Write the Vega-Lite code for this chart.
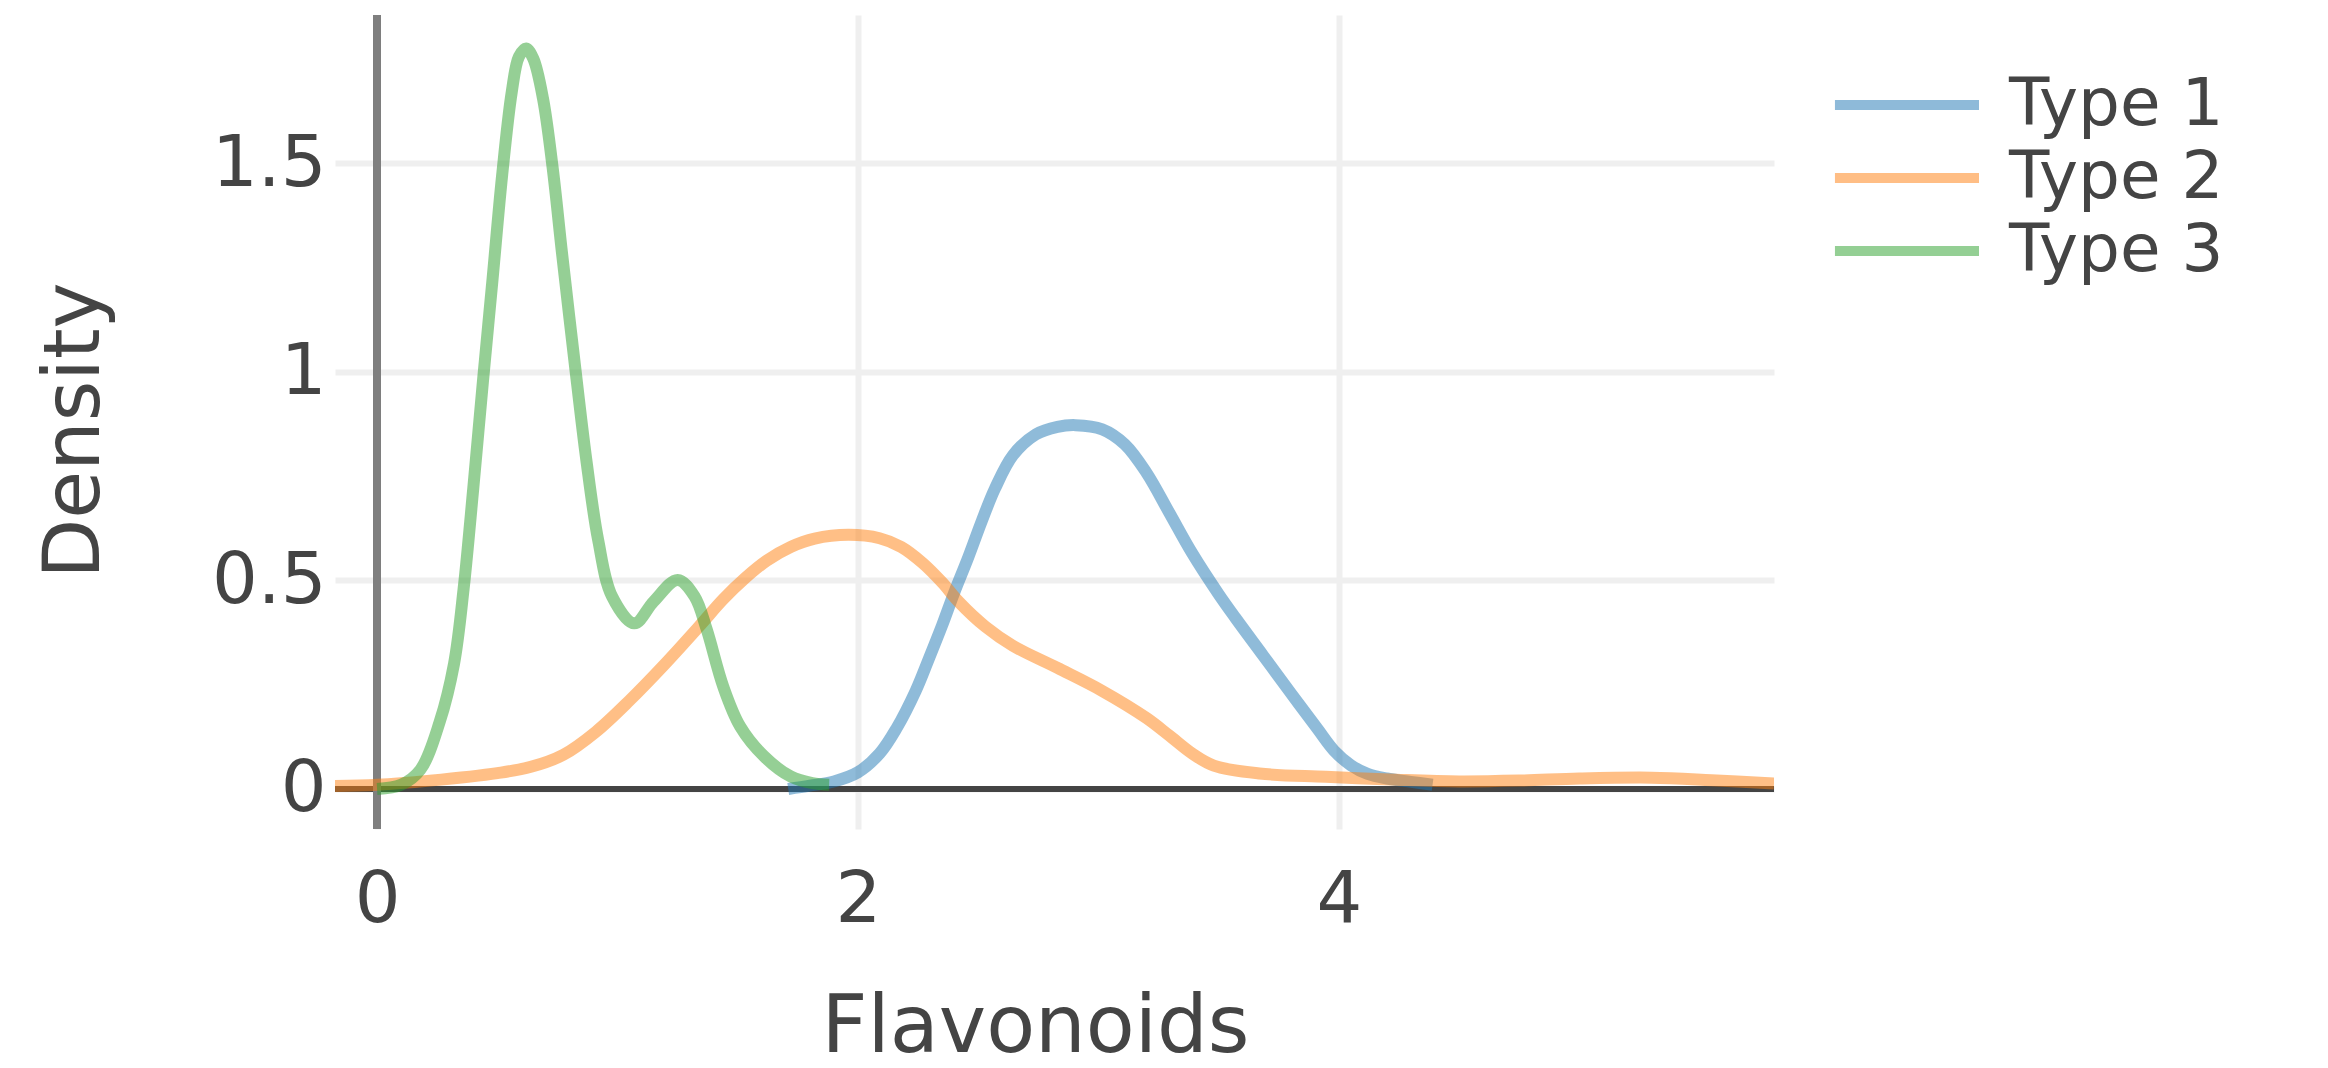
{
  "$schema": "https://vega.github.io/schema/vega-lite/v6.json",
  "width": 1439,
  "height": 814,
  "autosize": {"type": "none"},
  "padding": {"left": 335, "top": 15, "right": 554, "bottom": 239},
  "background": "white",
  "config": {"view": {"stroke": null}, "font": "DejaVu Sans"},
  "data": {"values": [
    {"type": "Type 1", "x": 1.71, "y": 0.0},
    {"type": "Type 1", "x": 1.80, "y": 0.008},
    {"type": "Type 1", "x": 1.90, "y": 0.018},
    {"type": "Type 1", "x": 2.00, "y": 0.04},
    {"type": "Type 1", "x": 2.09, "y": 0.085},
    {"type": "Type 1", "x": 2.16, "y": 0.145},
    {"type": "Type 1", "x": 2.24, "y": 0.235},
    {"type": "Type 1", "x": 2.29, "y": 0.305},
    {"type": "Type 1", "x": 2.35, "y": 0.392},
    {"type": "Type 1", "x": 2.40, "y": 0.47},
    {"type": "Type 1", "x": 2.46, "y": 0.557},
    {"type": "Type 1", "x": 2.515, "y": 0.642},
    {"type": "Type 1", "x": 2.57, "y": 0.72},
    {"type": "Type 1", "x": 2.645, "y": 0.80},
    {"type": "Type 1", "x": 2.74, "y": 0.85},
    {"type": "Type 1", "x": 2.83, "y": 0.868},
    {"type": "Type 1", "x": 2.905, "y": 0.872},
    {"type": "Type 1", "x": 3.016, "y": 0.862},
    {"type": "Type 1", "x": 3.11, "y": 0.826},
    {"type": "Type 1", "x": 3.20, "y": 0.758},
    {"type": "Type 1", "x": 3.295, "y": 0.662},
    {"type": "Type 1", "x": 3.39, "y": 0.565},
    {"type": "Type 1", "x": 3.50, "y": 0.467},
    {"type": "Type 1", "x": 3.57, "y": 0.41},
    {"type": "Type 1", "x": 3.685, "y": 0.32},
    {"type": "Type 1", "x": 3.80, "y": 0.23},
    {"type": "Type 1", "x": 3.91, "y": 0.145},
    {"type": "Type 1", "x": 3.98, "y": 0.092},
    {"type": "Type 1", "x": 4.05, "y": 0.057},
    {"type": "Type 1", "x": 4.12, "y": 0.036},
    {"type": "Type 1", "x": 4.20, "y": 0.025},
    {"type": "Type 1", "x": 4.30, "y": 0.017},
    {"type": "Type 1", "x": 4.39, "y": 0.01},
    {"type": "Type 2", "x": -0.175, "y": 0.007},
    {"type": "Type 2", "x": 0.0, "y": 0.01},
    {"type": "Type 2", "x": 0.22, "y": 0.02},
    {"type": "Type 2", "x": 0.50, "y": 0.038},
    {"type": "Type 2", "x": 0.64, "y": 0.053},
    {"type": "Type 2", "x": 0.775, "y": 0.082},
    {"type": "Type 2", "x": 0.91, "y": 0.137},
    {"type": "Type 2", "x": 1.05, "y": 0.212},
    {"type": "Type 2", "x": 1.19, "y": 0.295},
    {"type": "Type 2", "x": 1.34, "y": 0.39},
    {"type": "Type 2", "x": 1.44, "y": 0.455},
    {"type": "Type 2", "x": 1.53, "y": 0.505},
    {"type": "Type 2", "x": 1.62, "y": 0.547},
    {"type": "Type 2", "x": 1.72, "y": 0.58},
    {"type": "Type 2", "x": 1.82, "y": 0.600},
    {"type": "Type 2", "x": 1.96, "y": 0.609},
    {"type": "Type 2", "x": 2.09, "y": 0.601},
    {"type": "Type 2", "x": 2.18, "y": 0.58},
    {"type": "Type 2", "x": 2.27, "y": 0.541},
    {"type": "Type 2", "x": 2.35, "y": 0.495},
    {"type": "Type 2", "x": 2.42, "y": 0.448},
    {"type": "Type 2", "x": 2.53, "y": 0.389},
    {"type": "Type 2", "x": 2.645, "y": 0.343},
    {"type": "Type 2", "x": 2.83, "y": 0.29},
    {"type": "Type 2", "x": 3.016, "y": 0.235},
    {"type": "Type 2", "x": 3.20, "y": 0.17},
    {"type": "Type 2", "x": 3.295, "y": 0.128},
    {"type": "Type 2", "x": 3.39, "y": 0.085},
    {"type": "Type 2", "x": 3.48, "y": 0.056},
    {"type": "Type 2", "x": 3.67, "y": 0.037},
    {"type": "Type 2", "x": 3.945, "y": 0.029},
    {"type": "Type 2", "x": 4.24, "y": 0.022},
    {"type": "Type 2", "x": 4.5, "y": 0.018},
    {"type": "Type 2", "x": 4.75, "y": 0.02},
    {"type": "Type 2", "x": 5.0, "y": 0.025},
    {"type": "Type 2", "x": 5.3, "y": 0.027},
    {"type": "Type 2", "x": 5.55, "y": 0.021},
    {"type": "Type 2", "x": 5.81, "y": 0.013},
    {"type": "Type 3", "x": 0.0, "y": 0.0},
    {"type": "Type 3", "x": 0.1, "y": 0.01},
    {"type": "Type 3", "x": 0.18, "y": 0.046},
    {"type": "Type 3", "x": 0.26, "y": 0.16},
    {"type": "Type 3", "x": 0.32, "y": 0.3},
    {"type": "Type 3", "x": 0.36, "y": 0.48},
    {"type": "Type 3", "x": 0.40, "y": 0.72},
    {"type": "Type 3", "x": 0.44, "y": 0.975},
    {"type": "Type 3", "x": 0.48, "y": 1.22},
    {"type": "Type 3", "x": 0.52, "y": 1.47},
    {"type": "Type 3", "x": 0.56, "y": 1.67},
    {"type": "Type 3", "x": 0.59, "y": 1.755},
    {"type": "Type 3", "x": 0.62, "y": 1.775},
    {"type": "Type 3", "x": 0.65, "y": 1.75},
    {"type": "Type 3", "x": 0.69, "y": 1.655},
    {"type": "Type 3", "x": 0.73, "y": 1.49},
    {"type": "Type 3", "x": 0.77, "y": 1.28},
    {"type": "Type 3", "x": 0.82, "y": 1.03},
    {"type": "Type 3", "x": 0.87, "y": 0.79},
    {"type": "Type 3", "x": 0.92, "y": 0.595},
    {"type": "Type 3", "x": 0.977, "y": 0.462},
    {"type": "Type 3", "x": 1.07, "y": 0.397},
    {"type": "Type 3", "x": 1.15, "y": 0.449},
    {"type": "Type 3", "x": 1.25, "y": 0.501},
    {"type": "Type 3", "x": 1.32, "y": 0.462},
    {"type": "Type 3", "x": 1.37, "y": 0.384},
    {"type": "Type 3", "x": 1.44, "y": 0.245},
    {"type": "Type 3", "x": 1.51, "y": 0.150},
    {"type": "Type 3", "x": 1.61, "y": 0.078},
    {"type": "Type 3", "x": 1.72, "y": 0.030},
    {"type": "Type 3", "x": 1.81, "y": 0.014},
    {"type": "Type 3", "x": 1.88, "y": 0.01}
  ]},
  "layer": [
    {
      "mark": {"type": "rule", "color": "#444444", "strokeWidth": 6},
      "encoding": {
        "y": {"datum": 0, "type": "quantitative",
          "scale": {"domain": [-0.096, 1.855], "nice": false, "zero": false},
          "axis": {"title": "Density", "values": [0, 0.5, 1, 1.5], "format": "~g", "domain": false, "ticks": false, "grid": true, "gridColor": "#efefef", "gridWidth": 6, "labelFontSize": 72, "labelColor": "#444444", "labelFont": "DejaVu Sans", "labelPadding": 9, "titleFontSize": 78, "titleFont": "DejaVu Sans", "titleFontWeight": "normal", "titleColor": "#444444", "titlePadding": 97, "titleY": 415}}
      }
    },
    {
      "mark": {"type": "rule", "color": "#7f7f7f", "strokeWidth": 7},
      "encoding": {
        "x": {"datum": 0, "type": "quantitative",
          "scale": {"domain": [-0.175, 5.81], "nice": false, "zero": false},
          "axis": {"title": "Flavonoids", "values": [0, 2, 4], "format": "d", "domain": false, "ticks": false, "grid": true, "gridColor": "#efefef", "gridWidth": 6, "labelFlush": false, "labelFontSize": 72, "labelColor": "#444444", "labelFont": "DejaVu Sans", "labelPadding": 35, "titleFontSize": 80, "titleFont": "DejaVu Sans", "titleFontWeight": "normal", "titleColor": "#444444", "titlePadding": 53, "titleX": 700}}
      }
    },
    {
      "mark": {"type": "line", "strokeWidth": 12, "opacity": 0.5, "interpolate": "catmull-rom", "clip": true},
      "encoding": {
        "x": {"field": "x", "type": "quantitative",
          "scale": {"domain": [-0.175, 5.81], "nice": false, "zero": false},
          "axis": {"title": "Flavonoids", "values": [0, 2, 4], "format": "d", "domain": false, "ticks": false, "grid": true, "gridColor": "#efefef", "gridWidth": 6, "labelFlush": false, "labelFontSize": 72, "labelColor": "#444444", "labelFont": "DejaVu Sans", "labelPadding": 35, "titleFontSize": 80, "titleFont": "DejaVu Sans", "titleFontWeight": "normal", "titleColor": "#444444", "titlePadding": 53, "titleX": 700}},
        "y": {"field": "y", "type": "quantitative",
          "scale": {"domain": [-0.096, 1.855], "nice": false, "zero": false},
          "axis": {"title": "Density", "values": [0, 0.5, 1, 1.5], "format": "~g", "domain": false, "ticks": false, "grid": true, "gridColor": "#efefef", "gridWidth": 6, "labelFontSize": 72, "labelColor": "#444444", "labelFont": "DejaVu Sans", "labelPadding": 9, "titleFontSize": 78, "titleFont": "DejaVu Sans", "titleFontWeight": "normal", "titleColor": "#444444", "titlePadding": 97, "titleY": 415}},
        "color": {"field": "type", "type": "nominal",
          "scale": {"domain": ["Type 1", "Type 2", "Type 3"], "range": ["#1f77b4", "#ff7f0e", "#2ca02c"]},
          "legend": {"title": null, "orient": "none", "legendX": 1585, "legendY": 57, "symbolType": "M-4.54,0H1", "symbolSize": 2704, "symbolStrokeWidth": 10, "symbolOpacity": 0.5, "labelFontSize": 66, "labelFont": "DejaVu Sans", "labelColor": "#444444", "labelOffset": 23, "labelLimit": 500, "rowPadding": 7, "padding": 0}}
      }
    }
  ]
}
